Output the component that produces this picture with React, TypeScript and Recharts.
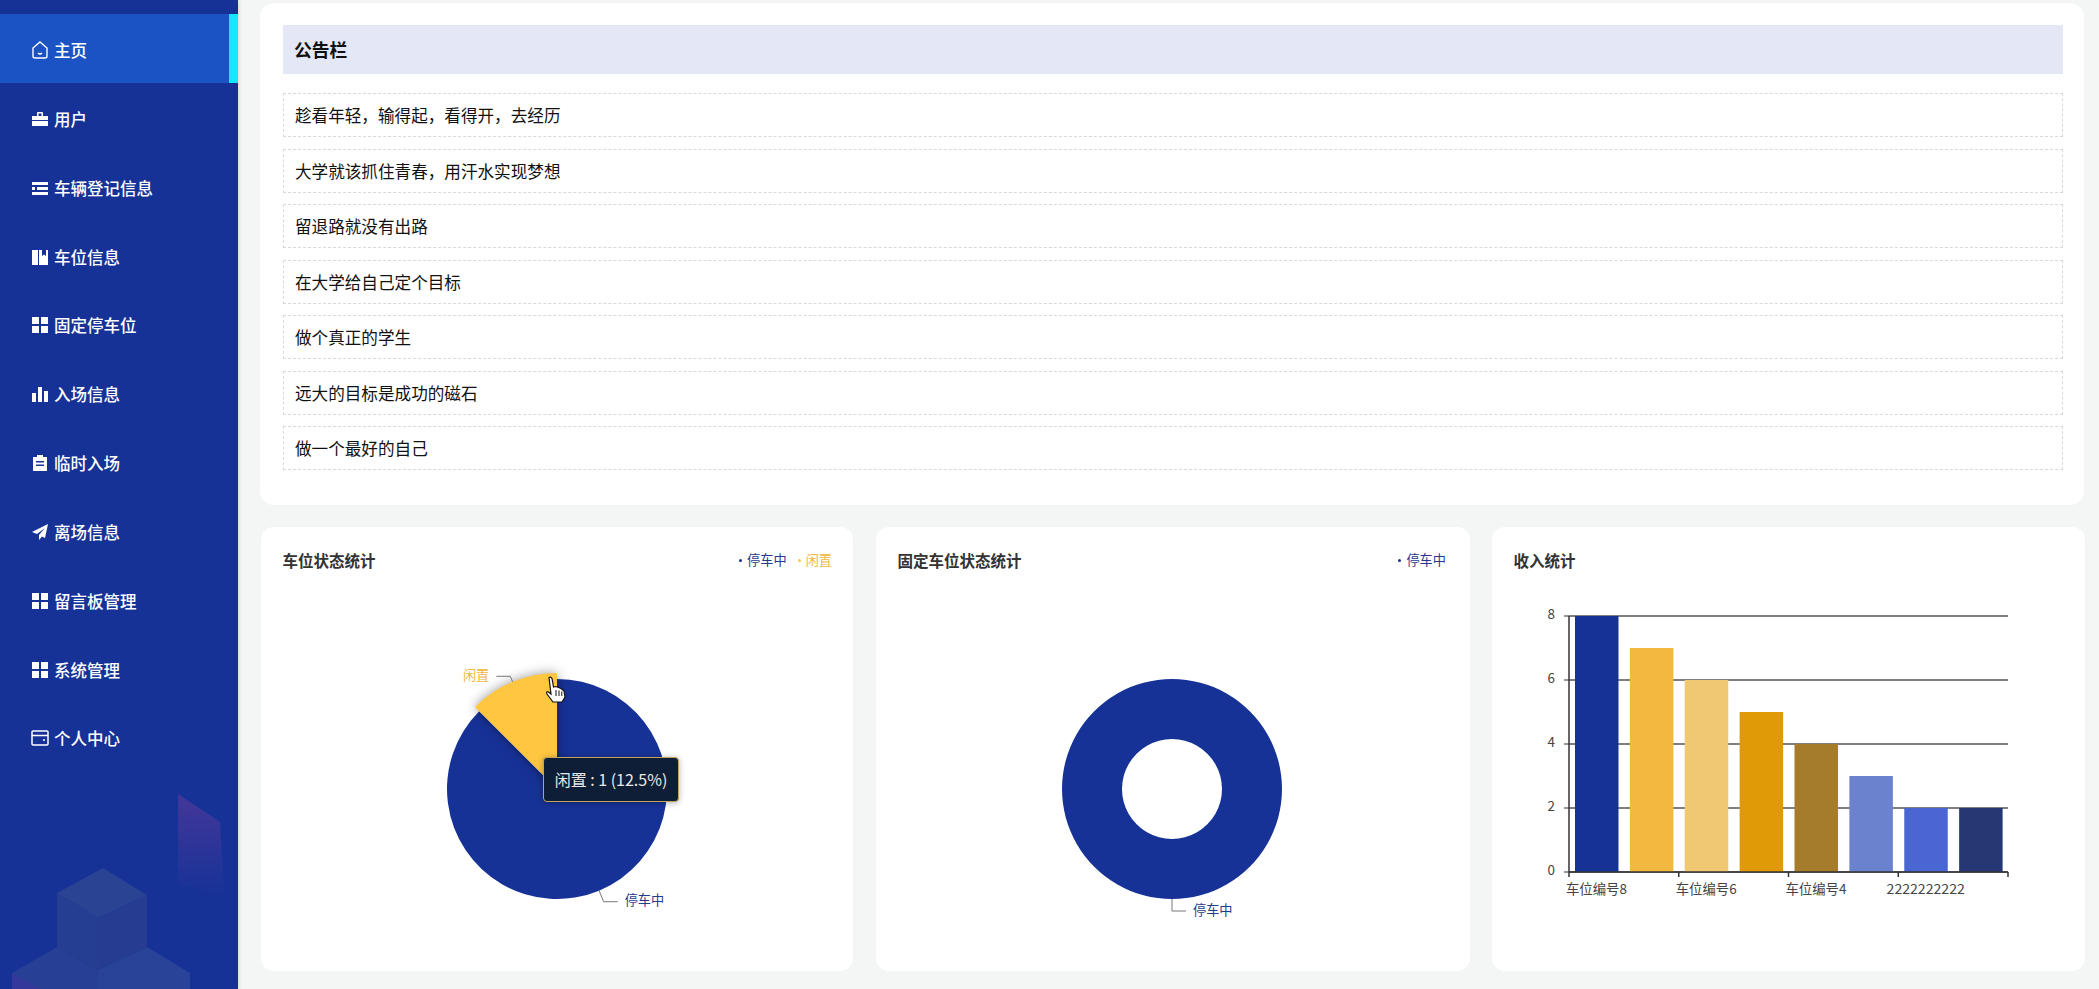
import React from "react";
import { PieChart, Pie, BarChart, Bar, XAxis, YAxis, CartesianGrid, Cell, Legend, Tooltip, Sector } from "recharts";

const menuItems = ["主页", "用户", "车辆登记信息", "车位信息", "固定停车位", "入场信息", "临时入场", "离场信息", "留言板管理", "系统管理", "个人中心"];
const menuIcons = ["home", "case", "list", "book", "grid", "bars", "clip", "plane", "grid", "grid", "card"];
const notices = ["趁看年轻，输得起，看得开，去经历", "大学就该抓住青春，用汗水实现梦想", "留退路就没有出路", "在大学给自己定个目标", "做个真正的学生", "远大的目标是成功的磁石", "做一个最好的自己"];

const statusNames = ["停车中", "闲置"];
const statusValues = [7, 1];
const statusColors = ["#173297", "#ffc640"];
const statusTextColors = ["#26398c", "#f0b840"];

const fixedNames = ["停车中"];
const fixedValues = [8];
const fixedColors = ["#173297"];
const fixedTextColors = ["#26398c"];

const incomeCategories = ["车位编号8", "车位编号7", "车位编号6", "车位编号5", "车位编号4", "车位编号3", "2222222222", "车位编号1"];
const incomeValues = [8, 7, 6, 5, 4, 3, 2, 2];
const incomeColors = ["#173297", "#f2b83f", "#f0c772", "#e09a07", "#a57c2b", "#6b82cf", "#4a66d0", "#253874"];
const incomeTicks = [0, 2, 4, 6, 8];

const FONT = '"Noto Sans CJK SC", "Noto Sans", sans-serif';
const SIDEBAR = "#173297";

const statusData = statusNames.map((name, i) => ({ name, value: statusValues[i], fill: statusColors[i], textColor: statusTextColors[i] }));
const fixedData = fixedNames.map((name, i) => ({ name, value: fixedValues[i], fill: fixedColors[i], textColor: fixedTextColors[i] }));
const incomeData = incomeCategories.map((name, i) => ({ name, value: incomeValues[i] }));
const statusTotal = statusValues.reduce((a, b) => a + b, 0);

const PIE_R = 110;
const HOVER_GROW = 6;
const BAR_W = 593;
const BAR_H = 444;
const PLOT_LEFT = 77;
const PLOT_RIGHT = 77;
const BAND = (BAR_W - PLOT_LEFT - PLOT_RIGHT) / incomeCategories.length;

function makeLabel(activeName: string | null) {
  return (p: any) => {
    const a = (-p.midAngle * Math.PI) / 180;
    const c = Math.cos(a);
    const s = Math.sin(a);
    const r = p.outerRadius + (p.name === activeName ? HOVER_GROW : 0);
    const ex = p.cx + r * c;
    const ey = p.cy + r * s;
    const kx = p.cx + (p.outerRadius + 12) * c;
    const ky = p.cy + (p.outerRadius + 12) * s;
    const dir = c >= -0.01 ? 1 : -1;
    const hx = kx + dir * 14;
    const color = p.payload?.textColor ?? p.textColor;
    return (
      <g>
        <polyline points={`${ex},${ey} ${kx},${ky} ${hx},${ky}`} fill="none" stroke="#777" strokeWidth={1} />
        <text x={hx + dir * 7} y={ky - 2} textAnchor={dir > 0 ? "start" : "end"} dominantBaseline="central" fontSize={13.2} fontFamily={FONT} fill={color}>
          {p.name}
        </text>
      </g>
    );
  };
}

function makeShape(activeName: string | null) {
  return (p: any) => {
    const active = (p.name ?? p.payload?.name) === activeName;
    if (!active) return <Sector {...p} />;
    return (
      <g style={{ filter: "drop-shadow(0 0 6px rgba(0,0,0,0.4))" }}>
        <Sector {...p} outerRadius={p.outerRadius + HOVER_GROW} />
      </g>
    );
  };
}

const legendContent = (props: any) => (
  <div style={{ display: "flex", gap: 11, fontFamily: FONT, fontSize: 13.2, lineHeight: "18px", whiteSpace: "nowrap" }}>
    {(props.payload || []).map((it: any) => (
      <span key={it.value} style={{ color: it.payload?.textColor ?? it.color, display: "flex", alignItems: "center" }}>
        <span style={{ width: 3, height: 3, borderRadius: 2, background: it.color, marginRight: 5 }} />
        {it.value}
      </span>
    ))}
  </div>
);

const tooltipContent = (props: any) => {
  const item = props.payload && props.payload[0];
  if (!item) return null;
  const pct = ((item.value / statusTotal) * 100).toFixed(1);
  return (
    <div style={{ width: 136, height: 45, boxSizing: "border-box", background: "#0d1e36", border: "1px solid #c2a45e", borderRadius: 4, color: "#e8e8e8", fontFamily: FONT, fontSize: 16, lineHeight: "43px", textAlign: "center", whiteSpace: "nowrap", boxShadow: "0 1px 6px rgba(0,0,0,0.3)" }}>
      {`${item.name} : ${item.value} (${pct}%)`}
    </div>
  );
};

const xTick = (p: any) => {
  const { x, y } = p;
  const left = x - BAND / 2;
  const value = String(p.payload.value);
  const isLast = incomeCategories.indexOf(value) === incomeCategories.length - 2;
  return (
    <g>
      <line x1={left} x2={left} y1={y} y2={y + 5} stroke="#333" strokeWidth={1.5} />
      {isLast ? <line x1={left + 2 * BAND} x2={left + 2 * BAND} y1={y} y2={y + 5} stroke="#333" strokeWidth={1.5} /> : null}
      <text x={x} y={y + 16} textAnchor="middle" dominantBaseline="central" fontSize={/^\d+$/.test(value) ? 14.1 : 13.4} fontFamily={FONT} fill="#444">
        {value}
      </text>
    </g>
  );
};

function Icon({ kind }: { kind: string }) {
  const w = "#ffffff";
  let body: React.ReactNode = null;
  if (kind === "home") body = <path d="M9 1 L16 7 V15 Q16 17 14 17 H4 Q2 17 2 15 V7 Z M7 12 Q9 14 11 12" fill="none" stroke={w} strokeWidth={1.4} />;
  if (kind === "case") body = <path d="M1 6 H6 V3 Q6 2 7 2 H11 Q12 2 12 3 V6 H17 V10 H1 Z M7.5 3.5 V6 H10.5 V3.5 Z M1 11 H17 V16 H1 Z" fill={w} fillRule="evenodd" />;
  if (kind === "list") body = <path d="M1 3 H17 V6 H1 Z M6 8 H17 V11 H6 Z M1 8 H4 V11 H1 Z M1 13 H17 V16 H1 Z" fill={w} />;
  if (kind === "book") body = <path d="M1 2 H7 V17 H1 Z M8 2 H17 V17 H8 Z M11 2 V8 L13 6.5 L15 8 V2 Z" fill={w} fillRule="evenodd" />;
  if (kind === "grid") body = <path d="M1 1 H8 V8 H1 Z M10 1 H17 V8 H10 Z M1 10 H8 V17 H1 Z M10 10 H17 V17 H10 Z" fill={w} />;
  if (kind === "bars") body = <path d="M1 8 H5 V17 H1 Z M7 2 H11 V17 H7 Z M13 6 H17 V17 H13 Z" fill={w} />;
  if (kind === "clip") body = <path d="M6 1 H12 V3 H16 V17 H2 V3 H6 Z M5 7 V8.5 H13 V7 Z M5 10.5 V12 H13 V10.5 Z" fill={w} fillRule="evenodd" />;
  if (kind === "plane") body = <path d="M17 1 L1 9 L6 11 L14 5 L8 12 V17 L11 13.5 L14 15 Z" fill={w} />;
  if (kind === "card") body = <path d="M2 2 H16 Q17 2 17 3 V15 Q17 16 16 16 H2 Q1 16 1 15 V3 Q1 2 2 2 Z M1 6.5 H17 M12 11 H14" fill="none" stroke={w} strokeWidth={1.5} />;
  return <svg width={18} height={18} viewBox="0 0 18 18" style={{ position: "absolute", left: 31, top: -9 }}>{body}</svg>;
}

function Card({ x, y, w, h, radius = 13, children }: any) {
  return <div style={{ position: "absolute", left: x, top: y, width: w, height: h, background: "#fff", borderRadius: radius }}>{children}</div>;
}

function CardTitle({ text }: { text: string }) {
  return <div style={{ position: "absolute", left: 21.5, top: 21.5, lineHeight: "22px", fontSize: 15.5, fontWeight: 700, color: "#333", whiteSpace: "nowrap" }}>{text}</div>;
}

const itemY = [50, 119, 188, 257, 325, 394, 463, 532, 601, 670, 738];
const rowTops = [93, 149, 204, 260, 315, 371, 426];

export default function App() {
  return (
    <div style={{ position: "absolute", left: 0, top: 0, width: 2099, height: 989, overflow: "hidden", background: "#f4f6f6", fontFamily: FONT }}>
      {/* Sidebar */}
      <div style={{ position: "absolute", left: 0, top: 0, width: 238, height: 989, background: SIDEBAR, boxShadow: "1px 0 4px rgba(0,0,0,0.12)" }}>
        <svg width={238} height={229} style={{ position: "absolute", left: 0, top: 760 }}>
          <defs>
            <linearGradient id="shard" x1="0" y1="0" x2="0" y2="1">
              <stop offset="0" stopColor="#6a3a9a" stopOpacity={0.55} />
              <stop offset="1" stopColor="#6a3a9a" stopOpacity={0} />
            </linearGradient>
          </defs>
          <polygon points="178,34 220,62 224,134 178,124" fill="url(#shard)" />
          <polygon points="103,108 147,135 98,158 57,133" fill="#2a4392" />
          <polygon points="57,133 98,158 98,210 57,187" fill="#263e91" />
          <polygon points="98,158 147,135 147,187 98,210" fill="#263c90" />
          <polygon points="57,187 98,210 98,229 12,229 12,213" fill="#273f94" />
          <polygon points="147,187 190,213 190,229 98,229 98,210" fill="#284397" />
          <polygon points="12,213 40,229 12,229" fill="#33389a" />
        </svg>
        <div style={{ position: "absolute", left: 0, top: 14, width: 238, height: 69, background: "#1b52c4" }} />
        <div style={{ position: "absolute", left: 229, top: 14, width: 9, height: 69, background: "#19e5ff" }} />
        {menuItems.map((m, i) => (
          <div key={m} style={{ position: "absolute", left: 0, top: itemY[i], width: 238, height: 0 }}>
            <Icon kind={menuIcons[i]} />
            <div style={{ position: "absolute", left: 54, top: -12, lineHeight: "24px", fontSize: 16.5, fontWeight: 500, color: "#fff", whiteSpace: "nowrap" }}>{m}</div>
          </div>
        ))}
      </div>

      {/* Notice board */}
      <Card x={260} y={3} w={1824} h={502} radius={14}>
        <div style={{ position: "absolute", left: 23, top: 22, width: 1780, height: 49, background: "#e4e7f5" }} />
        <div style={{ position: "absolute", left: 34, top: 22, lineHeight: "49px", fontSize: 17.8, fontWeight: 700, color: "#111" }}>公告栏</div>
        {notices.map((n, i) => (
          <div key={n} style={{ position: "absolute", left: 23, top: rowTops[i] - 3, width: 1780, height: 44, boxSizing: "border-box", border: "1px dashed #d9d9d9", paddingLeft: 11, lineHeight: "42px", fontSize: 16.6, color: "#111", whiteSpace: "nowrap" }}>{n}</div>
        ))}
      </Card>

      {/* Parking status pie */}
      <Card x={261} y={527} w={592} h={444}>
        <CardTitle text="车位状态统计" />
        <PieChart width={592} height={444} margin={{ top: 0, right: 0, bottom: 0, left: 0 }} style={{ position: "absolute", left: 0, top: 0 }}>
          <Legend content={legendContent} layout="vertical" align="right" verticalAlign="top" wrapperStyle={{ top: 24, right: 21, left: "auto", width: "auto" }} />
          <Pie data={statusData} dataKey="value" nameKey="name" cx={296} cy={262} outerRadius={PIE_R} startAngle={90} endAngle={-270} stroke="none" isAnimationActive={false} label={makeLabel("闲置")} labelLine={false} shape={makeShape("闲置")} />
          <Tooltip defaultIndex={1} active position={{ x: 282, y: 230 }} content={tooltipContent} allowEscapeViewBox={{ x: true, y: true }} isAnimationActive={false} wrapperStyle={{ outline: "none" }} />
        </PieChart>
        <svg width={22} height={28} viewBox="0 0 22 28" style={{ position: "absolute", left: 284, top: 149 }}>
          <path d="M4 1.5 Q6 0.5 7 2.5 L8.5 11 L11 10.5 L13.5 11.5 L16 12.5 L19 15 L20 21 L17 26 L8 26 L2 18 Q1 14.5 3.5 16 L6 18 Z" fill="#fff" stroke="#111" strokeWidth={1.2} />
          <path d="M11 14 V20 M14 14.5 V20 M16.8 15.5 V20" stroke="#111" strokeWidth={1} />
        </svg>
      </Card>

      {/* Fixed parking status donut */}
      <Card x={876} y={527} w={594} h={444}>
        <CardTitle text="固定车位状态统计" />
        <PieChart width={594} height={444} margin={{ top: 0, right: 0, bottom: 0, left: 0 }} style={{ position: "absolute", left: 0, top: 0 }}>
          <Legend content={legendContent} layout="vertical" align="right" verticalAlign="top" wrapperStyle={{ top: 24, right: 24, left: "auto", width: "auto" }} />
          <Pie data={fixedData} dataKey="value" nameKey="name" cx={296} cy={262} innerRadius={50} outerRadius={PIE_R} startAngle={90} endAngle={-270} stroke="none" isAnimationActive={false} label={makeLabel(null)} labelLine={false} />
        </PieChart>
      </Card>

      {/* Income bar chart */}
      <Card x={1492} y={527} w={593} h={444}>
        <CardTitle text="收入统计" />
        <BarChart width={BAR_W} height={BAR_H} data={incomeData} margin={{ top: 89, right: PLOT_RIGHT, bottom: 59, left: PLOT_LEFT - 40 }} style={{ position: "absolute", left: 0, top: 0 }}>
          <CartesianGrid vertical={false} stroke="#555" strokeWidth={1.4} />
          <XAxis dataKey="name" interval={1} height={40} tickSize={0} tickMargin={0} tickLine={false} axisLine={{ stroke: "#333", strokeWidth: 1.5 }} tick={xTick} />
          <YAxis width={40} domain={[0, 8]} ticks={incomeTicks} tickSize={5} tickMargin={9} tickLine={{ stroke: "#333" }} axisLine={{ stroke: "#333", strokeWidth: 1.5 }} tick={{ fontSize: 13.4, fontFamily: FONT, fill: "#444", dy: -2 }} />
          <Bar dataKey="value" barSize={43.5} isAnimationActive={false}>
            {incomeData.map((d, i) => (
              <Cell key={d.name} fill={incomeColors[i]} />
            ))}
          </Bar>
        </BarChart>
      </Card>
    </div>
  );
}
